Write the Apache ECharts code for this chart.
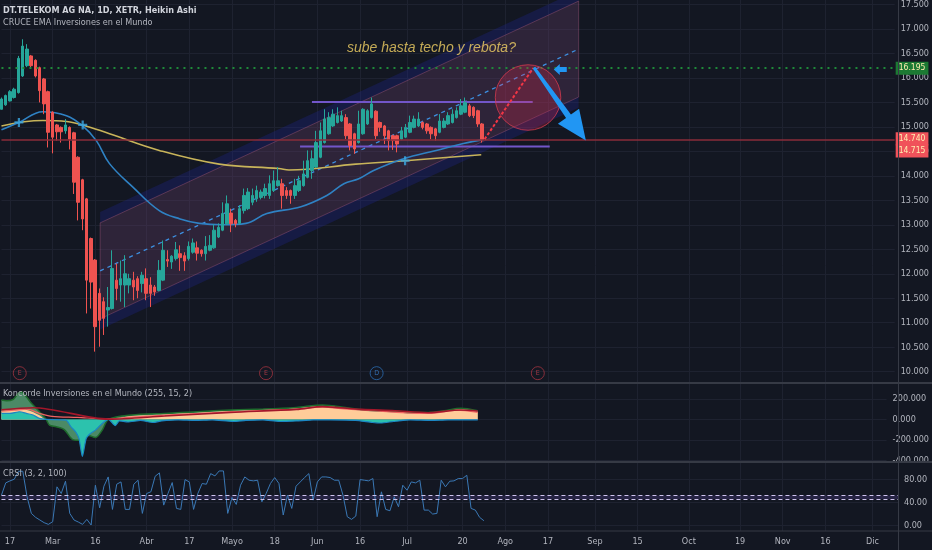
<!DOCTYPE html>
<html><head><meta charset="utf-8">
<script src="https://cdn.jsdelivr.net/npm/echarts@6/dist/echarts.min.js"></script>
<style>html,body{margin:0;padding:0;background:#131722;}#c{width:932px;height:550px;}</style>
</head><body><div id="c"></div>
<script>
// ---------- DATA ----------
const barCount = 211;
const tickIdx  = [2,12,22,34,44,54,64,74,84,95,108,118,128,139,149,161,173,183,193,204];
const tickText = ['17','Mar','16','Abr','17','Mayo','18','Jun','16','Jul','20','Ago','17','Sep','15','Oct','19','Nov','16','Dic'];

// Heikin Ashi candles: [open, close, low, high]
const candles = [
[15.36,15.57,15.36,15.60],[15.45,15.64,15.43,15.66],[15.53,15.72,15.52,15.75],[15.60,15.77,15.58,15.80],
[15.70,16.40,15.68,16.45],[16.04,16.65,16.02,16.79],[16.25,16.59,16.22,16.69],[16.45,16.25,16.21,16.47],
[16.36,16.04,16.01,16.38],[16.21,15.74,15.50,16.23],[15.98,15.47,15.26,16.00],[15.72,14.89,14.58,15.74],
[15.30,14.79,14.46,15.32],[15.04,14.90,14.72,15.06],[14.99,14.90,14.68,15.01],[14.92,15.04,14.86,15.16],
[14.99,14.75,14.54,15.01],[14.88,13.87,13.63,14.90],[14.38,13.46,13.09,14.40],[13.92,13.12,12.89,13.94],
[13.53,11.87,11.19,13.55],[12.72,11.83,11.29,12.74],[12.28,10.92,10.41,12.30],[11.60,11.05,10.51,11.70],
[11.43,11.09,10.75,11.52],[11.26,11.31,10.92,11.73],[11.29,12.11,11.27,12.48],[11.87,11.70,11.46,12.21],
[11.77,11.90,11.43,12.27],[11.77,12.00,11.32,12.38],[11.77,11.90,11.60,12.00],[11.87,11.73,11.46,12.04],
[11.90,11.66,11.50,11.95],[11.80,11.97,11.62,12.04],[11.90,11.60,11.46,12.11],[11.77,11.60,11.32,11.93],
[11.73,11.63,11.55,11.77],[11.66,12.07,11.64,12.28],[11.87,12.48,11.85,12.68],[12.29,12.26,12.14,12.48],
[12.24,12.36,12.10,12.38],[12.31,12.49,12.27,12.65],[12.41,12.33,12.06,12.58],[12.37,12.26,12.06,12.44],
[12.31,12.56,12.27,12.66],[12.44,12.63,12.41,12.72],[12.53,12.42,12.27,12.66],[12.48,12.41,12.35,12.50],
[12.41,12.56,12.27,12.77],[12.48,12.58,12.46,12.79],[12.53,12.89,12.51,13.01],[12.75,12.95,12.73,13.03],
[12.89,13.23,12.87,13.46],[13.02,13.43,13.00,13.60],[13.24,13.02,12.85,13.33],[13.09,13.02,12.95,13.12],
[13.03,13.33,13.00,13.40],[13.29,13.60,13.23,13.74],[13.33,13.67,13.30,13.75],[13.46,13.60,13.40,13.74],
[13.53,13.70,13.47,13.80],[13.56,13.67,13.52,13.72],[13.60,13.74,13.54,13.84],[13.60,13.84,13.53,14.01],
[13.70,13.90,13.67,14.11],[13.80,13.90,13.78,14.18],[13.84,13.60,13.33,13.94],[13.70,13.60,13.53,13.77],
[13.70,13.60,13.43,13.72],[13.60,13.80,13.53,13.94],[13.70,13.90,13.67,14.00],[13.80,14.04,13.78,14.31],
[13.97,14.31,13.95,14.52],[14.11,14.35,13.94,14.52],[14.18,14.68,14.16,14.92],[14.38,14.92,14.36,15.09],
[14.68,15.16,14.66,15.36],[14.86,15.19,14.84,15.30],[15.02,15.26,15.00,15.36],[15.09,15.23,15.07,15.40],
[15.12,15.23,15.10,15.33],[15.19,14.82,14.75,15.26],[15.06,14.62,14.52,15.08],[14.86,14.55,14.45,14.88],
[14.68,15.06,14.66,15.33],[14.86,15.36,14.84,15.38],[15.06,15.33,15.04,15.36],[15.19,15.47,15.17,15.60],
[15.32,14.82,14.75,15.34],[15.09,14.99,14.90,15.11],[15.02,14.82,14.65,15.04],[14.92,14.72,14.52,14.94],
[14.82,14.72,14.53,14.84],[14.82,14.65,14.48,14.84],[14.75,14.92,14.73,15.00],[14.79,14.99,14.77,15.06],
[14.89,15.09,14.87,15.23],[14.99,15.16,14.97,15.23],[15.02,15.16,15.00,15.30],[15.09,14.99,14.95,15.11],
[15.06,14.92,14.86,15.08],[14.99,14.86,14.75,15.01],[14.96,14.82,14.72,14.98],[14.89,15.12,14.87,15.26],
[14.99,15.12,14.97,15.18],[15.06,15.23,15.04,15.30],[15.09,15.26,15.07,15.36],[15.19,15.33,15.17,15.40],
[15.26,15.43,15.24,15.57],[15.30,15.50,15.28,15.60],[15.43,15.23,15.20,15.47],[15.40,15.23,15.18,15.42],
[15.33,15.06,15.00,15.35],[15.06,14.74,14.68,15.08]
];

// EMAs [barIndex, price]
const emaFast = [[0,14.94],[4.1,15.09],[9.7,15.31],[15.3,15.23],[19.1,15.02],[22.3,14.72],[25.4,14.25],[30.9,13.77],[37.1,13.29],[42,13.12],[46.5,13.03],[52,13.0],[57.5,13.03],[62.4,13.23],[70.4,13.37],[76.5,13.60],[80.5,13.84],[84,13.94],[87.5,14.11],[94.5,14.35],[102.2,14.52],[108.6,14.66],[113.2,14.74]];
const emaSlow = [[0,15.02],[9.7,15.13],[15.3,15.11],[19.1,15.04],[25.4,14.86],[37.1,14.52],[51.2,14.24],[65.2,14.15],[67.6,14.12],[83.3,14.24],[95,14.31],[112.8,14.43]];
const emaCrosses = [[4.1,15.09],[19.1,15.04],[94.9,14.31]];

// drawings
const channelIdx = [23.2, 135.7];
const channelMid = [12.06, 16.59];
const channelHalf = [0.98, 1.20];           // inner, outer half width (price)
const rangeTop = [[73.0,15.51],[124.9,15.51]];
const rangeBottom = [[70.2,14.60],[128.9,14.60]];
const forecastLine = [[113.6,14.75],[125.0,16.20]];
const circleCenter = [123.8, 15.60];
const circleRadiusBars = 7.7;
const bigArrow = [[125.2,16.21],[137.4,14.72]];
const smallArrow = [131.5, 16.17];
const noteText = ['sube hasta techo y rebota?', 101.1, 16.61];
const priceMarks = [16.195, 14.740, 14.715];
const eventMarks = [[4.3,'E'],[62.2,'E'],[88.2,'D'],[126.1,'E']];

// Koncorde oscillator [barIndex, value]
const kGreen = [[0,190],[1.2,183],[2.8,197],[4,256],[4.7,272],[5.9,223],[7.1,158],[8.3,108],[9.4,59],[10.6,0],[11.4,-56],[13,-72],[14.9,-99],[16.9,-197],[18.4,-204],[20.4,-154],[22.3,-177],[23.9,-105],[25.4,0],[30.9,43],[38.7,59],[46.5,76],[54.3,92],[62.1,102],[70,118],[76.2,141],[81.6,118],[85.5,95],[89.4,85],[93.4,79],[97.3,69],[101.2,69],[105,85],[109,109],[113,85]];
const kPeach = [[0,85],[3,95],[5,100],[7,80],[9,40],[10,10],[11,0],[25.4,0],[30.9,33],[38.7,49],[46.5,66],[54.3,82],[62.1,92],[70,108],[76.2,131],[81.6,108],[85.5,85],[89.4,75],[93.4,69],[97.3,59],[101.2,59],[105,75],[109,99],[113,75]];
const kTeal = [[0,59],[2,59],[4.3,75],[5.9,59],[7.5,43],[9,10],[10.6,0],[15.3,-7],[16.5,-72],[17.6,-121],[18.4,-187],[19.2,-361],[20.1,-187],[21.1,-138],[22.3,-105],[23.9,-39],[25.4,0],[27,-60],[28,-15],[30,-25],[33,-10],[36,-30],[38,-15],[42,-5],[46,-10],[50,-5],[55,-20],[58,-10],[62,-5],[66,-20],[70,-15],[74,-5],[78,-5],[84,-10],[88,-30],[90,-35],[93,-20],[97,-5],[102,-10],[106,-5],[110,-5],[113,-5]];
const kSalmon = [[0,80],[3,90],[6,100],[9,60],[12,30],[18,20],[25,5],[30,20],[40,45],[50,65],[60,85],[70,100],[76,120],[82,100],[88,85],[96,65],[102,60],[108,90],[113,70]];
const kRed = [[0,95],[7.5,115],[25.4,3],[38.7,33],[54.3,69],[70,98],[76.2,125],[85.5,98],[93.4,85],[101.2,66],[109,92],[113,82]];

// CRSI per bar
const crsi = [52.7,73.8,77.3,80.1,93.8,93.8,49.8,21.2,14.4,9.8,5.2,2.3,6.9,67,55.5,76.7,21.2,9.8,6.3,2.3,10.9,1.2,69.8,30.9,68.1,84.1,28.1,71.5,75.5,28.1,28.1,71.5,78.4,21.2,55.5,58.4,85.2,91,35.5,55.5,74.4,29.8,28.1,79.5,75.5,28.1,55.5,72.7,71.5,89.8,85.8,94.4,94.4,21.2,48.7,36.7,69.8,84.1,78.4,77.3,78.4,41.2,55.5,72.7,83,72.7,18.4,52.7,29.8,68.1,75.5,83,89.8,44.1,75.5,84.1,84.1,83,78.4,78.4,52.7,15.5,10.9,16.6,79.5,78.4,77.3,81.3,15.5,58.4,28.1,25.8,49.8,32.6,69.8,61.2,75.5,73.8,78.4,26.9,26.9,20.1,21.2,78.4,67,76.7,77.3,81.3,81.3,87,29.8,26.9,14.4,8.6];
const crsiBands = [52, 46];

// ---------- CHART ----------
const FONT = "'Liberation Sans Narrow','DejaVu Sans Condensed','Roboto Condensed',sans-serif";
const BG = '#131722', GRIDC = '#1e2230', TXT = '#b2b5be';
const cats = Array.from({length: barCount}, (_, i) => { const k = tickIdx.indexOf(i); return k >= 0 ? tickText[k] : ''; });
const showTick = (i) => tickIdx.indexOf(i) >= 0;
const L = 1.46, R = 34;

const chart = echarts.init(document.getElementById('c'), null, {renderer: 'canvas'});

function catAxis(gi, opts) {
  return Object.assign({type: 'category', gridIndex: gi, data: cats, boundaryGap: false,
    axisLine: {show: false}, axisTick: {show: false}, axisLabel: {show: false}, splitLine: {show: false}}, opts || {});
}
function valX(gi) { return {type: 'value', gridIndex: gi, min: 0, max: barCount - 1, show: false}; }

function channelRender(params, api) {
  const P = (i, p) => api.coord([i, p]);
  const [i0, i1] = channelIdx, [m0, m1] = channelMid, [wi, wo] = channelHalf;
  const upBand = [P(i0, m0 + wi), P(i1, m1 + wi), P(i1, m1 + wo), P(i0, m0 + wo)];
  const loBand = [P(i0, m0 - wi), P(i1, m1 - wi), P(i1, m1 - wo), P(i0, m0 - wo)];
  const inner = [P(i0, m0 + wi), P(i1, m1 + wi), P(i1, m1 - wi), P(i0, m0 - wi)];
  return {type: 'group', children: [
    {type: 'polygon', shape: {points: upBand}, style: {fill: 'rgba(30,36,140,0.32)'}},
    {type: 'polygon', shape: {points: loBand}, style: {fill: 'rgba(30,36,140,0.32)'}},
    {type: 'polygon', shape: {points: inner}, style: {fill: 'rgba(110,66,112,0.30)', stroke: 'rgba(190,100,140,0.35)', lineWidth: 1}}
  ]};
}
function circleRender(params, api) {
  const c = api.coord(circleCenter);
  const e = api.coord([circleCenter[0] + circleRadiusBars, circleCenter[1]]);
  return {type: 'circle', shape: {cx: c[0], cy: c[1], r: e[0] - c[0]},
    style: {fill: 'rgba(233,40,80,0.25)', stroke: 'rgba(220,60,80,0.75)', lineWidth: 1}};
}
function bigArrowRender(params, api) {
  const a = api.coord(bigArrow[0]), b = api.coord(bigArrow[1]);
  const dx = b[0] - a[0], dy = b[1] - a[1], len = Math.hypot(dx, dy);
  const ux = dx / len, uy = dy / len, nx = -uy, ny = ux;
  const hl = 30, hw = 13, sw = 3;
  const bx = b[0] - ux * hl, by = b[1] - uy * hl;
  const pts = [[a[0] + nx * 1.5, a[1] + ny * 1.5], [bx + nx * sw, by + ny * sw], [bx + nx * hw, by + ny * hw], [b[0], b[1]],
    [bx - nx * hw, by - ny * hw], [bx - nx * sw, by - ny * sw], [a[0] - nx * 1.5, a[1] - ny * 1.5]];
  return {type: 'polygon', shape: {points: pts}, style: {fill: '#2196f3'}};
}
function smallArrowRender(params, api) {
  const c = api.coord(smallArrow);
  const p = [[-7, 0], [-1, -5.5], [-1, -2.5], [6, -2.5], [6, 2.5], [-1, 2.5], [-1, 5.5]].map(q => [c[0] + q[0], c[1] + q[1]]);
  return {type: 'polygon', shape: {points: p}, style: {fill: '#2196f3'}};
}

const markLbl = (txt, bg, off) => ({show: true, position: 'end', distance: 1, formatter: txt,
  backgroundColor: bg, color: '#ffeeb0', fontSize: 8.5, fontFamily: FONT, padding: [2, 3, 2, 3], offset: off});

const option = {
  backgroundColor: BG,
  animation: false,
  title: [
    {text: 'DT.TELEKOM AG NA, 1D, XETR, Heikin Ashi', left: 3, top: 6, padding: 0, textStyle: {color: '#d1d4dc', fontSize: 9, fontWeight: 'bold', fontFamily: FONT}},
    {text: 'CRUCE EMA Inversiones en el Mundo', left: 3, top: 18, padding: 0, textStyle: {color: '#b2b5be', fontSize: 9, fontWeight: 'normal', fontFamily: FONT}},
    {text: 'Koncorde Inversiones en el Mundo (255, 15, 2)', left: 3, top: 389, padding: 0, textStyle: {color: '#b2b5be', fontSize: 9, fontWeight: 'normal', fontFamily: FONT}},
    {text: 'CRSI (3, 2, 100)', left: 3, top: 469, padding: 0, textStyle: {color: '#b2b5be', fontSize: 9, fontWeight: 'normal', fontFamily: FONT}}
  ],
  grid: [
    {left: L, right: R, top: 3.45, height: 368.25},
    {left: L, right: R, top: 399, height: 61.3},
    {left: L, right: R, top: 479.3, height: 46.4},
    {left: L, right: R, top: 0, height: 531}
  ],
  xAxis: [
    catAxis(0), valX(0),
    catAxis(1), valX(1),
    catAxis(2, {offset: 5, axisLabel: {show: true, interval: showTick, color: TXT, fontSize: 9, fontFamily: FONT, margin: 6}}), valX(2),
    catAxis(3, {splitLine: {show: true, interval: showTick, lineStyle: {color: GRIDC, width: 1}}})
  ],
  yAxis: [
    {type: 'value', gridIndex: 0, position: 'right', min: 10, max: 17.5, interval: 0.5,
      axisLine: {show: false}, axisTick: {show: false},
      axisLabel: {color: TXT, fontSize: 9, fontFamily: FONT, margin: 6, formatter: v => v.toFixed(3)},
      splitLine: {lineStyle: {color: GRIDC}}},
    {type: 'value', gridIndex: 1, position: 'right', min: -400, max: 200, interval: 200,
      axisLine: {show: false}, axisTick: {show: false},
      axisLabel: {color: TXT, fontSize: 9, fontFamily: FONT, margin: 6, formatter: v => v.toFixed(3)},
      splitLine: {lineStyle: {color: GRIDC}}},
    {type: 'value', gridIndex: 2, position: 'right', min: 0, max: 80, interval: 40,
      axisLine: {show: false}, axisTick: {show: false},
      axisLabel: {color: TXT, fontSize: 9, fontFamily: FONT, margin: 6, formatter: v => v.toFixed(2)},
      splitLine: {lineStyle: {color: GRIDC}}},
    {type: 'value', gridIndex: 3, min: 0, max: 1, show: false}
  ],
  series: [
    {type: 'custom', xAxisIndex: 1, yAxisIndex: 0, z: 1, silent: true, renderItem: channelRender, data: [[channelIdx[0], channelMid[0]]]},
    {type: 'line', xAxisIndex: 1, yAxisIndex: 0, z: 2, symbol: 'none', data: [[channelIdx[0], channelMid[0]], [channelIdx[1], channelMid[1]]],
      lineStyle: {color: '#3d8fe0', width: 1.3, type: [4, 4]}},
    {type: 'line', xAxisIndex: 1, yAxisIndex: 0, z: 2, symbol: 'none', data: rangeTop, lineStyle: {color: '#7256c9', width: 2}},
    {type: 'line', xAxisIndex: 1, yAxisIndex: 0, z: 2, symbol: 'none', data: rangeBottom, lineStyle: {color: '#7256c9', width: 2}},
    {type: 'line', xAxisIndex: 1, yAxisIndex: 0, z: 3, symbol: 'none', smooth: 0.4, data: emaSlow, lineStyle: {color: '#c8b45a', width: 1.6}},
    {type: 'line', xAxisIndex: 1, yAxisIndex: 0, z: 3, symbol: 'none', smooth: 0.4, data: emaFast, lineStyle: {color: '#2f82c4', width: 1.6}},
    {type: 'candlestick', xAxisIndex: 0, yAxisIndex: 0, z: 4, barWidth: 3, data: candles,
      itemStyle: {color: '#26a69a', color0: '#ef5350', borderColor: '#26a69a', borderColor0: '#ef5350', borderWidth: 1},
      markLine: {silent: true, symbol: ['none', 'none'], animation: false, data: [
        {yAxis: priceMarks[0], lineStyle: {color: '#1f8a3a', type: [2, 5], width: 2}, label: markLbl(priceMarks[0].toFixed(3), '#1c7a33', [0, 0])},
        {yAxis: priceMarks[1], lineStyle: {color: '#8a2c3a', type: 'solid', width: 1.5}, label: markLbl(priceMarks[1].toFixed(3), '#f0525a', [0, -1])},
        {yAxis: priceMarks[2], lineStyle: {color: 'rgba(0,0,0,0)', width: 0.1}, label: markLbl(priceMarks[2].toFixed(3), '#f0525a', [0, 10])}
      ]}},
    {type: 'scatter', xAxisIndex: 1, yAxisIndex: 0, z: 5, data: emaCrosses, symbol: 'path://M3,0h2v3h3v2h-3v3h-2v-3h-3v-2h3z', symbolSize: 9,
      itemStyle: {color: '#3aa8e4'}},
    {type: 'custom', xAxisIndex: 1, yAxisIndex: 0, z: 5, silent: true, renderItem: circleRender, data: [circleCenter]},
    {type: 'line', xAxisIndex: 1, yAxisIndex: 0, z: 6, symbol: 'none', data: forecastLine, lineStyle: {color: '#f23645', width: 2, type: [3, 2]}},
    {type: 'custom', xAxisIndex: 1, yAxisIndex: 0, z: 7, silent: true, renderItem: bigArrowRender, data: [bigArrow[0]]},
    {type: 'custom', xAxisIndex: 1, yAxisIndex: 0, z: 7, silent: true, renderItem: smallArrowRender, data: [smallArrow]},
    {type: 'scatter', xAxisIndex: 1, yAxisIndex: 0, z: 8, symbolSize: 0, silent: true, data: [[noteText[1], noteText[2]]],
      label: {show: true, position: 'inside', formatter: noteText[0], color: '#f0d064', fontSize: 14, fontStyle: 'italic', fontFamily: "'Liberation Sans','DejaVu Sans',sans-serif"}},
    {type: 'scatter', xAxisIndex: 1, yAxisIndex: 0, z: 8, clip: false, silent: true, symbol: 'circle', symbolSize: 13,
      data: eventMarks.map(e => ({value: [e[0], 9.97], name: e[1],
        itemStyle: {color: 'rgba(0,0,0,0)', borderColor: e[1] === 'D' ? '#2b6cb0' : '#a33340', borderWidth: 1},
        label: {color: e[1] === 'D' ? '#3b82d0' : '#c2404d'}})),
      label: {show: true, position: 'inside', formatter: p => p.name, fontSize: 7, fontFamily: FONT}},

    // Koncorde
    {type: 'line', xAxisIndex: 3, yAxisIndex: 1, z: 2, clip: false, symbol: 'none', smooth: 0.3, data: kGreen,
      lineStyle: {color: '#1e6b2c', width: 1.5}, areaStyle: {color: '#4b8a66', opacity: 1}},
    {type: 'line', xAxisIndex: 3, yAxisIndex: 1, z: 3, clip: false, symbol: 'none', smooth: 0.3, data: kPeach,
      lineStyle: {width: 0}, areaStyle: {color: '#ffcc99', opacity: 1}},
    {type: 'line', xAxisIndex: 3, yAxisIndex: 1, z: 4, clip: false, symbol: 'none', smooth: 0.2, data: kTeal,
      lineStyle: {color: '#1b86c4', width: 1.2}, areaStyle: {color: '#2cc2ad', opacity: 1}},
    {type: 'line', xAxisIndex: 3, yAxisIndex: 1, z: 5, clip: false, symbol: 'none', smooth: 0.3, data: kSalmon,
      lineStyle: {color: '#f26262', width: 1.2}},
    {type: 'line', xAxisIndex: 3, yAxisIndex: 1, z: 6, clip: false, symbol: 'none', smooth: 0.3, data: kRed,
      lineStyle: {color: '#a3172a', width: 1.6}},

    // CRSI
    {type: 'line', xAxisIndex: 4, yAxisIndex: 2, z: 3, clip: false, symbol: 'none', data: crsi,
      lineStyle: {color: '#3a78b5', width: 1},
      markArea: {silent: true, itemStyle: {color: 'rgba(120,90,200,0.22)'}, data: [[{yAxis: crsiBands[1]}, {yAxis: crsiBands[0]}]]},
      markLine: {silent: true, symbol: ['none', 'none'], label: {show: false},
        lineStyle: {color: '#cfc4ee', type: [4, 3], width: 1}, data: [{yAxis: crsiBands[0]}, {yAxis: crsiBands[1]}]}}
  ],
  graphic: [
    {type: 'line', z: 100, shape: {x1: 898.5, y1: 0, x2: 898.5, y2: 550}, style: {stroke: '#363a45', lineWidth: 1}},
    {type: 'line', z: 100, shape: {x1: 0, y1: 383, x2: 932, y2: 383}, style: {stroke: '#363a45', lineWidth: 2}},
    {type: 'line', z: 100, shape: {x1: 0, y1: 462, x2: 932, y2: 462}, style: {stroke: '#363a45', lineWidth: 2}},
    {type: 'line', z: 100, shape: {x1: 0, y1: 531, x2: 932, y2: 531}, style: {stroke: '#363a45', lineWidth: 1}}
  ]
};
chart.setOption(option);
</script></body></html>
